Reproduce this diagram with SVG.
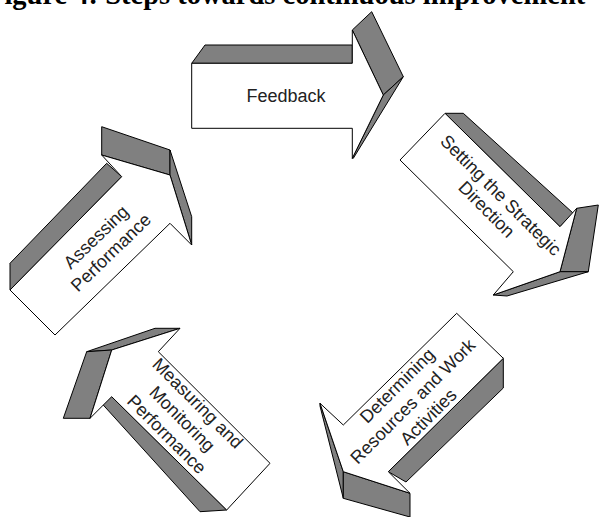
<svg xmlns="http://www.w3.org/2000/svg" width="600" height="517" viewBox="0 0 600 517">
<style>
.front{fill:#fff;stroke:#000;stroke-width:1;stroke-linejoin:miter}
.side{fill:#808080;stroke:#000;stroke-width:1;stroke-linejoin:miter}
.label{font-family:"Liberation Sans",Arial,sans-serif;font-size:18px;fill:#222;text-anchor:middle}
.title{font-family:"Liberation Serif","Times New Roman",serif;font-size:28.5px;font-weight:bold;fill:#000}
</style>
<rect width="600" height="517" fill="#fff"/>
<text class="title" x="-13" y="4">Figure 4: Steps towards continuous improvement</text>

<g id="feedback">
<polygon class="side" points="191.7,63.3 205,45 352.3,45 352.3,63.3"/>
<polygon class="side" points="352.3,30 371.7,11.7 403.3,76.7 383.3,95"/>
<polygon class="side" points="383.3,95 403.3,76.7 353.3,158.3 352.3,158.3"/>
<polygon class="front" points="191.7,63.3 352.3,63.3 352.3,30 383.3,95 352.3,158.3 352.3,128.3 191.7,128.3"/>
<text class="label" x="286" y="102" fill="#333">Feedback</text>
</g>

<g id="setting">
<polygon class="side" points="445,113.3 463.3,113.3 573.3,213.3 560,226.7"/>
<polygon class="side" points="576.7,208.3 598.3,205 588.3,271.7 560,271.7"/>
<polygon class="side" points="493.3,295 560,271.7 588.3,271.7 507,296"/>
<polygon class="front" points="445,113.3 560,226.7 576.7,208.3 560,271.7 493.3,295 513.3,271.7 400,160"/>
<g transform="translate(494,202) rotate(45)">
<text class="label" x="0" y="-3.5">Setting the Strategic</text>
<text class="label" x="0" y="16.5">Direction</text>
</g>
</g>

<g id="determining">
<polygon class="side" points="388.3,471.7 503.3,358.3 503.3,388 406,482"/>
<polygon class="side" points="320,403.3 343.3,471.7 343.3,498.3 320,406"/>
<polygon class="side" points="343.3,471.7 410,493.3 410,517 343.3,498.3"/>
<polygon class="front" points="456.7,313.3 503.3,358.3 388.3,471.7 410,493.3 343.3,471.7 320,403.3 343.3,425"/>
<g transform="translate(412.5,401) rotate(-45)">
<text class="label" x="0" y="-15.5">Determining</text>
<text class="label" x="0" y="6.5">Resources and Work</text>
<text class="label" x="0" y="28.5">Activities</text>
</g>
</g>

<g id="measuring">
<polygon class="side" points="111.7,350 180,328.3 155,328.3 86.7,351.7"/>
<polygon class="side" points="86.7,351.7 111.7,350 90,418.3 63.3,418.3"/>
<polygon class="side" points="111.7,396.7 226.7,510 200,511.7 101.7,403.3"/>
<polygon class="front" points="111.7,350 180,328.3 158.3,351.7 270,463.3 226.7,510 111.7,396.7 90,418.3"/>
<g transform="translate(182.5,418.5) rotate(45)">
<text class="label" x="0" y="-15.5">Measuring and</text>
<text class="label" x="0" y="6.5">Monitoring</text>
<text class="label" x="0" y="28.5">Performance</text>
</g>
</g>

<g id="assessing">
<polygon class="side" points="10,290 10,263.3 106.7,163.3 121.7,176.7"/>
<polygon class="side" points="101.7,155 101.7,126.7 170,150 170,175"/>
<polygon class="side" points="170,175 170,150 191.7,216.7 191.7,245"/>
<polygon class="front" points="10,290 121.7,176.7 101.7,155 170,175 191.7,245 170,223.3 55,335"/>
<g transform="translate(103,244.3) rotate(-44)">
<text class="label" x="0" y="-4">Assessing</text>
<text class="label" x="0" y="17.5">Performance</text>
</g>
</g>
</svg>
